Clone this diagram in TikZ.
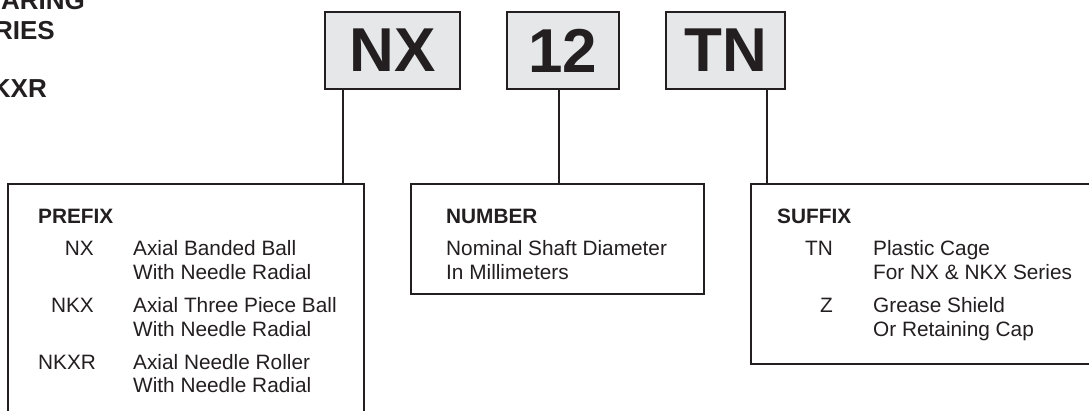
\documentclass[tikz,border=0pt]{standalone}
\usepackage{fontspec}
\setmainfont{Liberation Sans}
\definecolor{ink}{HTML}{231F20}
\definecolor{boxfill}{HTML}{E6E7E8}
\begin{document}
\begin{tikzpicture}[x=1pt,y=-1pt,
  every node/.style={text=ink},
  topbox/.style={draw=ink, line width=2pt, fill=boxfill, inner sep=0pt,
    font=\fontsize{62}{62}\selectfont\bfseries},
  infobox/.style={draw=ink, line width=2pt, fill=white, inner sep=0pt},
  conn/.style={draw=ink, line width=2pt},
  hd/.style={font=\fontsize{20.8}{24}\selectfont\bfseries, anchor=base west, inner sep=0pt},
  bd/.style={font=\fontsize{20.8}{24}\selectfont, anchor=base west, inner sep=0pt},
  lb/.style={font=\fontsize{20.8}{24}\selectfont, anchor=base east, inner sep=0pt},
  ttl/.style={font=\fontsize{26}{29}\selectfont\bfseries, anchor=base east, inner sep=0pt}]
\useasboundingbox (0,0) rectangle (1089,410);
\clip (0,0) rectangle (1089,410);
% title (cut off at the left edge)
\node[ttl] (t1) at (85,9.5) {BEARING};
\node[ttl] (t2) at (55,39) {SERIES};
\node[ttl] (t3) at (47,97) {NKXR};
% top code boxes
\node[topbox, minimum width=135, minimum height=77] (nx) at (392.5,50.5) {NX};
\node[topbox, minimum width=112, minimum height=77] (num) at (563,50.5) {12};
\node[topbox, minimum width=119, minimum height=77] (tn) at (725.5,50.5) {TN};
% info boxes
\node[infobox, minimum width=356, minimum height=256] (prefix) at (186,312) {};
\node[infobox, minimum width=293, minimum height=110] (number) at (557.5,239) {};
\node[infobox, minimum width=369, minimum height=180] (suffix) at (935.5,274) {};
% connectors
\coordinate (c1) at (343,0);
\coordinate (c2) at (559,0);
\coordinate (c3) at (767,0);
\draw[conn] (nx.south -| c1) -- (prefix.north -| c1);
\draw[conn] (num.south -| c2) -- (number.north -| c2);
\draw[conn] (tn.south -| c3) -- (suffix.north -| c3);
% prefix text
\node[hd] (ph) at (38,223) {PREFIX};
\node[lb] (p1) at (94,255) {NX};
\node[bd] (p1a) at (133,255) {Axial Banded Ball};
\node[bd] (p1b) at (133,279) {With Needle Radial};
\node[lb] (p2) at (94,312) {NKX};
\node[bd] (p2a) at (133,312) {Axial Three Piece Ball};
\node[bd] (p2b) at (133,336) {With Needle Radial};
\node[bd] (p3) at (38,369) {NKXR};
\node[bd] (p3a) at (133,369) {Axial Needle Roller};
\node[bd] (p3b) at (133,392) {With Needle Radial};
% number text
\node[hd] (nh) at (446,223) {NUMBER};
\node[bd] (n1) at (446,255) {Nominal Shaft Diameter};
\node[bd] (n2) at (446,279) {In Millimeters};
% suffix text
\node[hd] (sh) at (777,223) {SUFFIX};
\node[lb] (s1) at (833,255) {TN};
\node[bd] (s1a) at (873,255) {Plastic Cage};
\node[bd] (s1b) at (873,279) {For NX \& NKX Series};
\node[lb] (s2) at (833,312) {Z};
\node[bd] (s2a) at (873,312) {Grease Shield};
\node[bd] (s2b) at (873,336) {Or Retaining Cap};
\end{tikzpicture}
\end{document}
